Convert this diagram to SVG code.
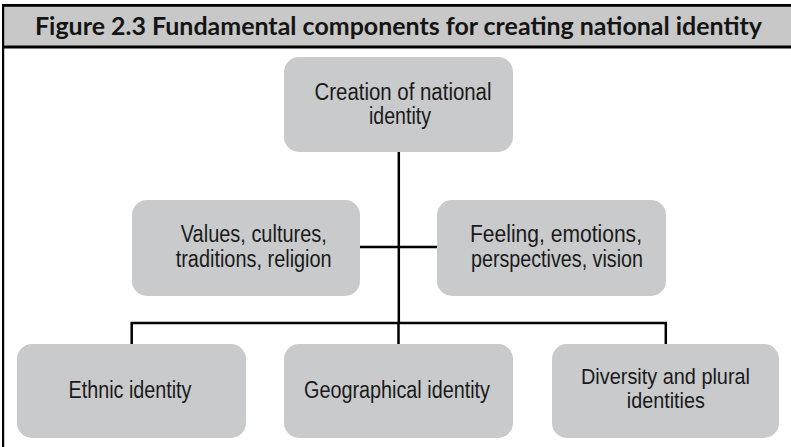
<svg xmlns="http://www.w3.org/2000/svg" width="791" height="447" viewBox="0 0 791 447">
<style>
.node rect{fill:#c9cacc;}
.node text{font-family:'Liberation Sans Narrow','Liberation Sans',Arial,sans-serif;font-size:23px;fill:#1a1a1a;text-anchor:middle;}
.title{font-family:Lato,'Liberation Sans',sans-serif;font-weight:bold;font-size:24px;fill:#141414;}
.conn{stroke:#000;stroke-width:2.5;fill:none;}
.frame{stroke:#000;fill:none;}
</style>
<rect x="0" y="0" width="791" height="447" fill="#fff"/>
<g id="title-band">
<rect x="3" y="5.3" width="790" height="41.7" fill="#c8c8c8"/>
<line class="frame" x1="2" y1="5.3" x2="791" y2="5.3" stroke-width="2.7"/>
<line class="frame" x1="2" y1="47" x2="791" y2="47" stroke-width="3"/>
<line class="frame" x1="3.1" y1="4" x2="3.1" y2="447" stroke-width="2.2"/>
<text class="title" x="35" y="35" textLength="727" lengthAdjust="spacingAndGlyphs">Figure 2.3 Fundamental components for creating national identity</text>
</g>
<g id="connectors">
<path class="conn" d="M398.8 152 V323"/>
<path class="conn" d="M398.5 323 V344" stroke-width="2"/>
<path class="conn" d="M360 247 H437"/>
<path class="conn" d="M131.7 344 V323 H665.8 V344"/>
</g>
<g id="n-creation" class="node">
<rect x="284" y="57" width="229" height="95" rx="15"/>
<text x="403" y="100" textLength="177" lengthAdjust="spacingAndGlyphs">Creation of national</text>
<text x="400" y="124" textLength="62" lengthAdjust="spacingAndGlyphs">identity</text>
</g>
<g id="n-values" class="node">
<rect x="132" y="200" width="228" height="96" rx="15"/>
<text x="253.8" y="242" textLength="146" lengthAdjust="spacingAndGlyphs">Values, cultures,</text>
<text x="253.7" y="267" textLength="156" lengthAdjust="spacingAndGlyphs">traditions, religion</text>
</g>
<g id="n-feeling" class="node">
<rect x="437" y="200" width="229" height="96" rx="15"/>
<text x="556" y="242" textLength="172" lengthAdjust="spacingAndGlyphs">Feeling, emotions,</text>
<text x="557" y="267" textLength="172" lengthAdjust="spacingAndGlyphs">perspectives, vision</text>
</g>
<g id="n-ethnic" class="node">
<rect x="17" y="344" width="229" height="94" rx="15"/>
<text x="130" y="397.5" textLength="123" lengthAdjust="spacingAndGlyphs">Ethnic identity</text>
</g>
<g id="n-geo" class="node">
<rect x="284" y="344" width="229" height="94" rx="15"/>
<text x="397" y="397.5" textLength="186" lengthAdjust="spacingAndGlyphs">Geographical identity</text>
</g>
<g id="n-diversity" class="node">
<rect x="552" y="344" width="227" height="94" rx="15"/>
<text x="665.5" y="383.5" textLength="169" lengthAdjust="spacingAndGlyphs" style="font-size:22px">Diversity and plural</text>
<text x="665.8" y="408" textLength="78" lengthAdjust="spacingAndGlyphs" style="font-size:22px">identities</text>
</g>
</svg>
